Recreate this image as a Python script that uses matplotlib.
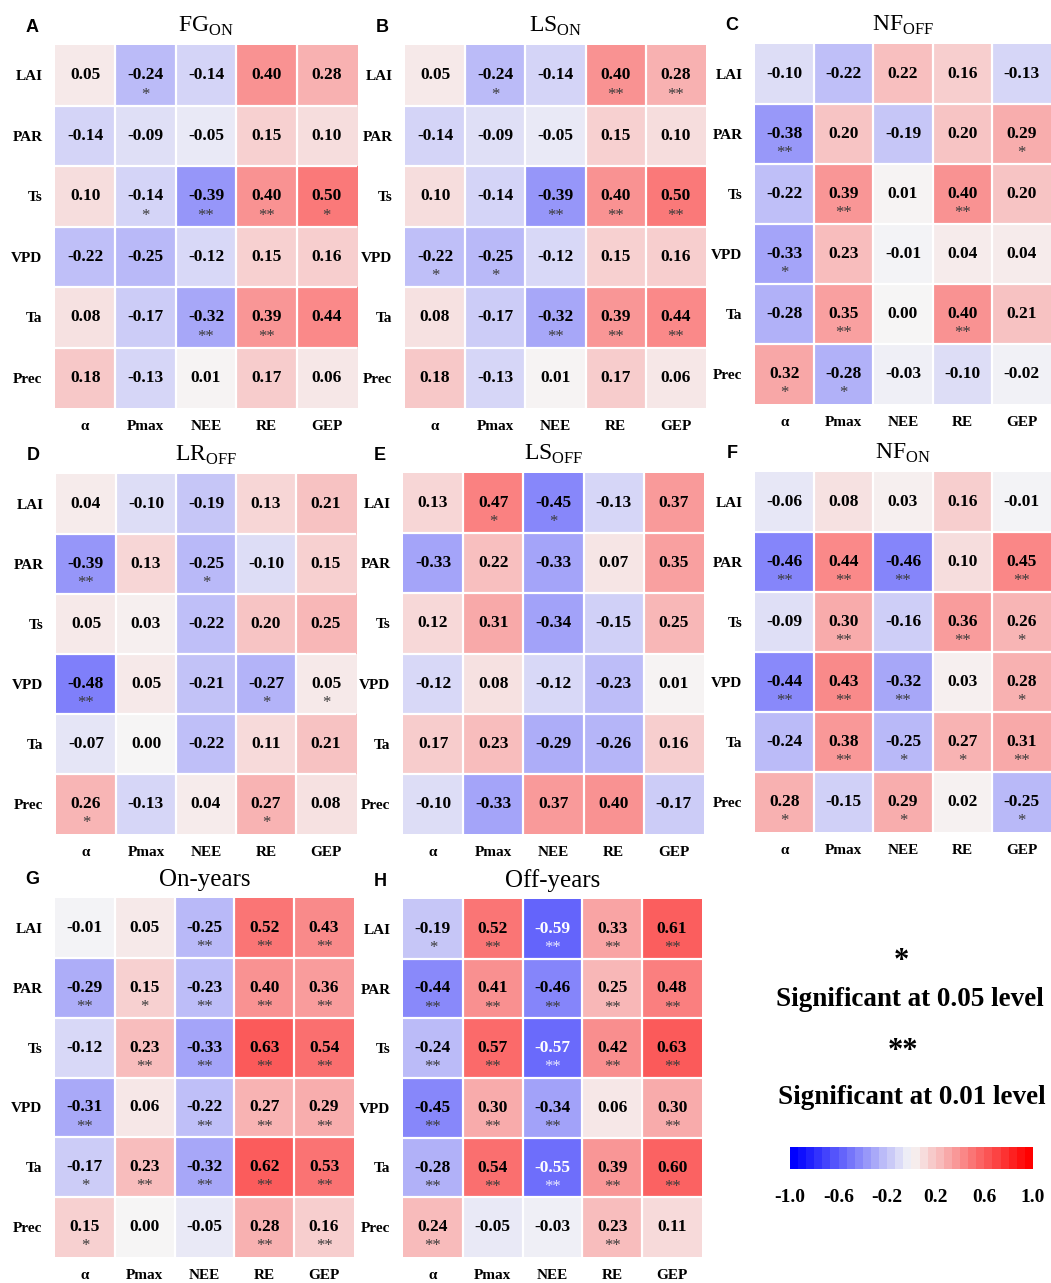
import numpy as np
import matplotlib
matplotlib.use("Agg")
import matplotlib.pyplot as plt
from matplotlib.colors import ListedColormap, LinearSegmentedColormap

plt.rcParams["font.family"] = ["Liberation Serif", "DejaVu Serif"]
plt.rcParams["mathtext.fontset"] = "custom"
plt.rcParams["mathtext.rm"] = "Liberation Serif"

rows = ["LAI", "PAR", "Ts", "VPD", "Ta", "Prec"]
cols = ["α", "Pmax", "NEE", "RE", "GEP"]

# correlation coefficients (rows x cols) and significance marks per site/period
fg_on = [[0.05, -0.24, -0.14, 0.40, 0.28],
         [-0.14, -0.09, -0.05, 0.15, 0.10],
         [0.10, -0.14, -0.39, 0.40, 0.50],
         [-0.22, -0.25, -0.12, 0.15, 0.16],
         [0.08, -0.17, -0.32, 0.39, 0.44],
         [0.18, -0.13, 0.01, 0.17, 0.06]]
fg_on_sig = [["", "*", "", "", ""],
             ["", "", "", "", ""],
             ["", "*", "**", "**", "*"],
             ["", "", "", "", ""],
             ["", "", "**", "**", ""],
             ["", "", "", "", ""]]

ls_on = [[0.05, -0.24, -0.14, 0.40, 0.28],
         [-0.14, -0.09, -0.05, 0.15, 0.10],
         [0.10, -0.14, -0.39, 0.40, 0.50],
         [-0.22, -0.25, -0.12, 0.15, 0.16],
         [0.08, -0.17, -0.32, 0.39, 0.44],
         [0.18, -0.13, 0.01, 0.17, 0.06]]
ls_on_sig = [["", "*", "", "**", "**"],
             ["", "", "", "", ""],
             ["", "", "**", "**", "**"],
             ["*", "*", "", "", ""],
             ["", "", "**", "**", "**"],
             ["", "", "", "", ""]]

nf_off = [[-0.10, -0.22, 0.22, 0.16, -0.13],
          [-0.38, 0.20, -0.19, 0.20, 0.29],
          [-0.22, 0.39, 0.01, 0.40, 0.20],
          [-0.33, 0.23, -0.01, 0.04, 0.04],
          [-0.28, 0.35, 0.00, 0.40, 0.21],
          [0.32, -0.28, -0.03, -0.10, -0.02]]
nf_off_sig = [["", "", "", "", ""],
              ["**", "", "", "", "*"],
              ["", "**", "", "**", ""],
              ["*", "", "", "", ""],
              ["", "**", "", "**", ""],
              ["*", "*", "", "", ""]]

lr_off = [[0.04, -0.10, -0.19, 0.13, 0.21],
          [-0.39, 0.13, -0.25, -0.10, 0.15],
          [0.05, 0.03, -0.22, 0.20, 0.25],
          [-0.48, 0.05, -0.21, -0.27, 0.05],
          [-0.07, 0.00, -0.22, 0.11, 0.21],
          [0.26, -0.13, 0.04, 0.27, 0.08]]
lr_off_sig = [["", "", "", "", ""],
              ["**", "", "*", "", ""],
              ["", "", "", "", ""],
              ["**", "", "", "*", "*"],
              ["", "", "", "", ""],
              ["*", "", "", "*", ""]]

ls_off = [[0.13, 0.47, -0.45, -0.13, 0.37],
          [-0.33, 0.22, -0.33, 0.07, 0.35],
          [0.12, 0.31, -0.34, -0.15, 0.25],
          [-0.12, 0.08, -0.12, -0.23, 0.01],
          [0.17, 0.23, -0.29, -0.26, 0.16],
          [-0.10, -0.33, 0.37, 0.40, -0.17]]
ls_off_sig = [["", "*", "*", "", ""],
              ["", "", "", "", ""],
              ["", "", "", "", ""],
              ["", "", "", "", ""],
              ["", "", "", "", ""],
              ["", "", "", "", ""]]

nf_on = [[-0.06, 0.08, 0.03, 0.16, -0.01],
         [-0.46, 0.44, -0.46, 0.10, 0.45],
         [-0.09, 0.30, -0.16, 0.36, 0.26],
         [-0.44, 0.43, -0.32, 0.03, 0.28],
         [-0.24, 0.38, -0.25, 0.27, 0.31],
         [0.28, -0.15, 0.29, 0.02, -0.25]]
nf_on_sig = [["", "", "", "", ""],
             ["**", "**", "**", "", "**"],
             ["", "**", "", "**", "*"],
             ["**", "**", "**", "", "*"],
             ["", "**", "*", "*", "**"],
             ["*", "", "*", "", "*"]]

on_years = [[-0.01, 0.05, -0.25, 0.52, 0.43],
            [-0.29, 0.15, -0.23, 0.40, 0.36],
            [-0.12, 0.23, -0.33, 0.63, 0.54],
            [-0.31, 0.06, -0.22, 0.27, 0.29],
            [-0.17, 0.23, -0.32, 0.62, 0.53],
            [0.15, 0.00, -0.05, 0.28, 0.16]]
on_years_sig = [["", "", "**", "**", "**"],
                ["**", "*", "**", "**", "**"],
                ["", "**", "**", "**", "**"],
                ["**", "", "**", "**", "**"],
                ["*", "**", "**", "**", "**"],
                ["*", "", "", "**", "**"]]

off_years = [[-0.19, 0.52, -0.59, 0.33, 0.61],
             [-0.44, 0.41, -0.46, 0.25, 0.48],
             [-0.24, 0.57, -0.57, 0.42, 0.63],
             [-0.45, 0.30, -0.34, 0.06, 0.30],
             [-0.28, 0.54, -0.55, 0.39, 0.60],
             [0.24, -0.05, -0.03, 0.23, 0.11]]
off_years_sig = [["*", "**", "**", "**", "**"],
                 ["**", "**", "**", "**", "**"],
                 ["**", "**", "**", "**", "**"],
                 ["**", "**", "**", "", "**"],
                 ["**", "**", "**", "**", "**"],
                 ["**", "", "", "**", ""]]

W, H = 1051, 1283
fig = plt.figure(figsize=(W / 100, H / 100), dpi=100)


def rect(l, t, r, b):
    return [l / W, 1 - b / H, (r - l) / W, (b - t) / H]


panels = [
    ("A", r"$\mathrm{FG}_{\mathrm{ON}}$", fg_on, fg_on_sig, (55, 45, 357, 408)),
    ("B", r"$\mathrm{LS}_{\mathrm{ON}}$", ls_on, ls_on_sig, (405, 45, 706, 408)),
    ("C", r"$\mathrm{NF}_{\mathrm{OFF}}$", nf_off, nf_off_sig, (755, 44, 1051, 404)),
    ("D", r"$\mathrm{LR}_{\mathrm{OFF}}$", lr_off, lr_off_sig, (56, 474, 356, 834)),
    ("E", r"$\mathrm{LS}_{\mathrm{OFF}}$", ls_off, ls_off_sig, (403, 473, 704, 834)),
    ("F", r"$\mathrm{NF}_{\mathrm{ON}}$", nf_on, nf_on_sig, (755, 472, 1051, 832)),
    ("G", "On-years", on_years, on_years_sig, (55, 898, 354, 1257)),
    ("H", "Off-years", off_years, off_years_sig, (403, 899, 702, 1257)),
]

# diverging blue -> near-white -> red
cmap = LinearSegmentedColormap.from_list(
    "blue_red", [(0.0, 0.0, 1.0), (0.965, 0.965, 0.965), (1.0, 0.0, 0.0)])

for letter, title, vals, sig, box in panels:
    v = np.array(vals)
    ax = fig.add_axes(rect(*box))
    ax.imshow(v, cmap=cmap, vmin=-1, vmax=1, aspect="auto", interpolation="nearest")
    for k in range(1, 5):
        ax.axvline(k - 0.5, color="white", lw=1.6)
    for k in range(1, 6):
        ax.axhline(k - 0.5, color="white", lw=1.6)
    for s in ax.spines.values():
        s.set_visible(False)
    ax.set_xticks(range(len(cols)))
    ax.set_xticklabels(cols, fontsize=11, fontweight="bold")
    ax.set_yticks(range(len(rows)))
    ax.set_yticklabels(rows, fontsize=11, fontweight="bold")
    ax.tick_params(length=0)
    ax.tick_params(axis="x", pad=8.5)
    ax.tick_params(axis="y", pad=9)
    for i in range(v.shape[0]):
        for j in range(v.shape[1]):
            val = v[i, j]
            light = val < -0.5
            tc = "white" if light else "black"
            sc = "#e8e8ff" if light else "#3a3a3a"
            ax.text(j, i, f"{val:.2f}", ha="center", va="center",
                    fontsize=12.5, fontweight="bold", color=tc)
            if sig[i][j]:
                ax.text(j, i + 0.32, sig[i][j], ha="center", va="center",
                        fontsize=12, color=sc)
    cx = (box[0] + box[2]) / 2 / W
    if title.startswith("$"):
        fig.text(cx, 1 - (box[1] - 19) / H, title, ha="center", va="center",
                 fontsize=17)
    else:
        fig.text(cx, 1 - (box[1] - 18) / H, title, ha="center", va="center",
                 fontsize=18)
    fig.text((box[0] - 23) / W, 1 - (box[1] - 18) / H, letter, ha="center",
             va="center", fontsize=13, fontweight="bold",
             family="Liberation Sans")

# significance legend
fig.text(901 / W, 1 - 962 / H, "*", ha="center", va="center", fontsize=22,
         fontweight="bold")
fig.text(910 / W, 1 - 1000 / H, "Significant at 0.05 level", ha="center",
         va="center", fontsize=19.5, fontweight="bold")
fig.text(903 / W, 1 - 1052 / H, "**", ha="center", va="center", fontsize=22,
         fontweight="bold")
fig.text(912 / W, 1 - 1098 / H, "Significant at 0.01 level", ha="center",
         va="center", fontsize=19.5, fontweight="bold")

# stepped colour bar
n_steps = 30
bar_cmap = ListedColormap(cmap(np.linspace(0, 1, n_steps)))
cax = fig.add_axes(rect(790, 1147, 1033, 1169))
cax.imshow(np.linspace(-1, 1, n_steps)[None, :], cmap=bar_cmap, vmin=-1, vmax=1,
           aspect="auto", extent=[-1, 1, 0, 1], interpolation="nearest")
cax.set_axis_off()
cbar_ticks = [-1.0, -0.6, -0.2, 0.2, 0.6, 1.0]
for t in cbar_ticks:
    x = 790 + (t + 1) / 2 * (1033 - 790)
    fig.text(x / W, 1 - 1197 / H, f"{t:.1f}", ha="center", va="center",
             fontsize=14, fontweight="bold")

fig.savefig("out.png", dpi=100, facecolor="white")
